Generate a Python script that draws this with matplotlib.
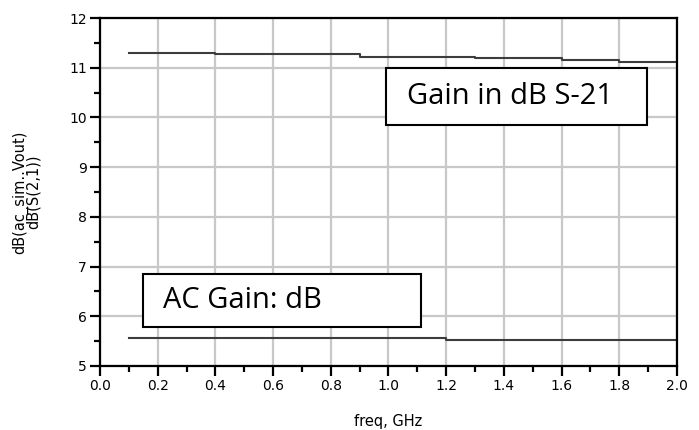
import matplotlib
matplotlib.use("Agg")
import matplotlib.pyplot as plt
from matplotlib.patches import Rectangle

# S-21 gain (dB) vs frequency (GHz)
gain_freq = [0.1, 0.4, 0.9, 1.3, 1.6, 1.8, 2.0]
gain_db = [11.30, 11.27, 11.22, 11.19, 11.15, 11.12, 11.12]

# AC gain (dB) vs frequency (GHz)
ac_freq = [0.1, 1.2, 2.0]
ac_db = [5.56, 5.53, 5.53]

x_ticks = [0.0, 0.2, 0.4, 0.6, 0.8, 1.0, 1.2, 1.4, 1.6, 1.8, 2.0]
y_ticks = [5, 6, 7, 8, 9, 10, 11, 12]

plt.rcParams['font.family'] = ['DejaVu Sans']

fig = plt.figure(figsize=(6.99, 4.30), dpi=100)
ax = fig.add_axes([0.143, 0.149, 0.8255, 0.809])

line_col = '#3c3c3c'
ax.plot(gain_freq, gain_db, color=line_col, lw=1.5, drawstyle='steps-post')
ax.plot(ac_freq, ac_db, color=line_col, lw=1.5, drawstyle='steps-post')

ax.set_xlim(0, 2.0)
ax.set_ylim(5, 12)
ax.set_xticks(x_ticks)
ax.set_xticklabels(['%.1f' % v for v in x_ticks])
ax.set_yticks(y_ticks)
ax.set_xticks([v / 10 for v in range(1, 20, 2)], minor=True)
ax.set_yticks([v + 0.5 for v in range(5, 12)], minor=True)

ax.grid(True, which='major', color='#c8c8c8', lw=1.6)
ax.set_axisbelow(True)
ax.tick_params(which='major', direction='out', length=7.5, width=1.6,
               labelsize=10, color='black', pad=2)
ax.tick_params(which='minor', direction='out', length=4, width=1.6, color='black')
for s in ax.spines.values():
    s.set_linewidth(1.6)
    s.set_color('black')

ax.set_xlabel('freq, GHz', fontsize=10.5, labelpad=15)
ax.set_ylabel('dB(ac_sim..Vout)\ndB(S(2,1))', fontsize=10.5, labelpad=20,
              linespacing=0.85)

# annotation boxes
def note(x0, y0, x1, y1, text):
    ax.add_patch(Rectangle((x0, y0), x1 - x0, y1 - y0, facecolor='white',
                           edgecolor='black', lw=1.5, zorder=5))
    ax.annotate(text, xy=(x0, (y0 + y1) / 2), xytext=(15, 0),
                textcoords='offset points', ha='left', va='center',
                fontsize=21, family='Open Sans', zorder=6)

note(0.991, 9.85, 1.896, 10.99, 'Gain in dB S-21')
note(0.148, 5.78, 1.113, 6.84, 'AC Gain: dB')

fig.savefig('out.png', dpi=100)
